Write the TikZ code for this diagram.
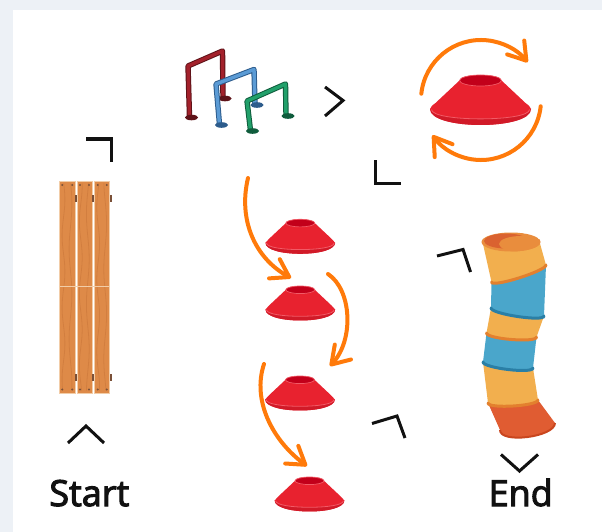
\documentclass[tikz,border=0pt]{standalone}
\usepackage{fontspec}
\setmainfont{Open Sans}
\newfontfamily\labelfont{Open Sans}[FakeBold=3]
\usetikzlibrary{arrows.meta}

\definecolor{pagegray}{HTML}{EDF1F6}
\definecolor{inkblack}{HTML}{111111}
\definecolor{conered}{HTML}{E8222F}
\definecolor{conehole}{HTML}{C2001A}
\definecolor{conebrim}{HTML}{D11A28}
\definecolor{conehi}{HTML}{F25A66}
\definecolor{flowor}{HTML}{FF7A0A}
\definecolor{wood}{HTML}{DE8A48}
\definecolor{woodedge}{HTML}{F2CDA8}
\definecolor{woodgrain}{HTML}{C77438}
\definecolor{woodnail}{HTML}{7A5038}
\definecolor{hredA}{HTML}{A3212B}
\definecolor{hredB}{HTML}{5E1218}
\definecolor{hbluA}{HTML}{5B9BD5}
\definecolor{hbluB}{HTML}{2D5C8C}
\definecolor{hgrnA}{HTML}{21A06A}
\definecolor{hgrnB}{HTML}{0F5C3C}
\definecolor{tunlight}{HTML}{F2AF4E}
\definecolor{tunblue}{HTML}{4AA6CB}
\definecolor{tunred}{HTML}{E05C32}
\definecolor{tunring}{HTML}{E3802E}
\definecolor{tunbluering}{HTML}{2A7FA6}
\definecolor{tuntop}{HTML}{E98D3D}
\definecolor{tuninner}{HTML}{DA6230}
\definecolor{tunrim}{HTML}{C9461E}

\tikzset{
  corner/.style={draw=inkblack, line width=3pt, line join=miter, line cap=butt},
  flow/.style={draw=flowor, line width=4pt, line cap=round,
    -{Straight Barb[length=17pt,width=22pt,round]}},
  grain/.style={draw=woodgrain, line width=0.8pt, opacity=0.5},
  label/.style={text=inkblack, font=\labelfont\fontsize{36}{40}\selectfont, anchor=base},
  % red disc cone, origin at the top centre of the hole
  pics/cone/.style={code={
    \fill[conered] (-21,5.5) .. controls (-21,-1.8) and (21,-1.8) .. (21,5.5)
      -- (45,28) .. controls (49,31) .. (50.5,34)
      .. controls (50.5,55.3) and (-50.5,55.3) .. (-50.5,34)
      .. controls (-49,31) .. (-45,28) -- cycle;
    \fill[conebrim] (-50.5,34) .. controls (-50.5,55.3) and (50.5,55.3) .. (50.5,34)
      .. controls (49,47) and (-49,47) .. cycle;
    \draw[conehi, line width=0.8pt] (-49,34.5) .. controls (-49,47) and (49,47) .. (49,34.5);
    \fill[conehole] (0,5.5) ellipse [x radius=21, y radius=5.5];
    \draw[conehi, line width=0.7pt] (0,5.5) ellipse [x radius=21, y radius=5.5];
  }},
  % one wooden board of the walking plank, origin at its top left corner
  pics/board/.style={code={
    \fill[wood] (0,0) rectangle (15.5,211.5);
    \draw[woodedge, line width=0.6pt] (0,0) rectangle (15.5,211.5);
    \draw[grain] plot[domain=2:209, samples=60, smooth] ({4+1.4*sin(\x*5+#1)}, \x);
    \draw[grain] plot[domain=2:209, samples=60, smooth] ({11+1.4*sin(\x*4+2*#1)}, \x);
  }},
  hurdle/.style 2 args={line width=#2, draw=#1, line join=round, line cap=round}
}

\begin{document}
\begin{tikzpicture}[x=1pt, y=-1pt]
  % page and panel
  \fill[pagegray] (0,0) rectangle (602,532);
  \fill[white] (13,10) rectangle (602,532);
  \useasboundingbox (0,0) rectangle (602,532);

  % ---------- walking plank ----------
  \pic at (59.5,181.5) {board=0};
  \pic at (76.8,181.5) {board=70};
  \pic at (94.2,181.5) {board=140};
  \draw[woodedge, line width=0.6pt] (59.5,286) -- (109.7,286);
  \foreach \nx in {62.3,72.3,80,89,97.7,106.7} {
    \fill[woodnail] (\nx,185) circle (1.1);
    \fill[woodnail] (\nx,389.5) circle (1.1);
  }
  \foreach \bx in {74.8,92.1,109.6} {
    \fill[woodnail] (\bx,195) rectangle ++(2,7);
    \fill[woodnail] (\bx,374) rectangle ++(2,7);
  }

  % ---------- three hurdles ----------
  \foreach \ca/\cb/\lfx/\lfy/\ltx/\lty/\rtx/\rty/\rfx/\rfy in {
      hredA/hredB/189.5/117/188/66/222.5/51/223/98,
      hbluA/hbluB/219.5/124.5/216/84/254/69.5/255/104.5,
      hgrnA/hgrnB/250.5/130.5/247/101/285.5/84/286/115.5} {
    \draw[hurdle={\cb}{5.4pt}] (\lfx,\lfy) -- (\ltx,\lty) -- (\rtx,\rty) -- (\rfx,\rfy);
    \draw[hurdle={\ca}{3.4pt}] (\lfx,\lfy) -- (\ltx,\lty) -- (\rtx,\rty) -- (\rfx,\rfy);
    \fill[\cb] (\lfx+2,\lfy+0.5) ellipse [x radius=6.5, y radius=2.8];
    \fill[\cb] (\rfx+2,\rfy+0.5) ellipse [x radius=6.5, y radius=2.8];
  }

  % ---------- cones ----------
  \pic at (480.5,75) {cone};
  \pic[scale=0.69] at (300.3,219.3) {cone};
  \pic[scale=0.69] at (300.3,286) {cone};
  \pic[scale=0.69] at (300,376) {cone};
  \pic[scale=0.69] at (309.5,477) {cone};

  % ---------- tunnel ----------
  \fill[tunlight] (483,244) -- (491.5,282) .. controls (491.5,288) and (546,271) .. (546,265)
    -- (539,240) -- cycle;
  \fill[tunblue] (491.5,282) .. controls (491.5,288) and (546,271) .. (546,265)
    -- (544,316) .. controls (544,322) and (491,314) .. (491,308) -- cycle;
  \fill[tunlight] (491,308) .. controls (491,314) and (544,322) .. (544,316)
    -- (536.5,337) .. controls (536.5,343) and (486.5,339) .. (486.5,333) -- cycle;
  \fill[tunblue] (486.5,333) .. controls (486.5,339) and (536.5,343) .. (536.5,337)
    -- (533,368) .. controls (533,374) and (483,368) .. (483,362) -- cycle;
  \fill[tunlight] (483,362) .. controls (483,368) and (533,374) .. (533,368)
    -- (538,400) .. controls (538,406) and (488,409) .. (488,403) -- cycle;
  \fill[tunred] (488,403) .. controls (488,409) and (538,406) .. (538,400)
    -- (555,423) .. controls (555,437) and (500,444) .. (500,430) -- cycle;
  \draw[tunrim, line width=2pt] (500,430) .. controls (500,444) and (555,437) .. (555,423);
  \draw[tunring, line width=3pt, line cap=round] (491.5,282) .. controls (491.5,288) and (546,271) .. (546,265);
  \draw[tunbluering, line width=3pt, line cap=round] (491,308) .. controls (491,314) and (544,322) .. (544,316);
  \draw[tunring, line width=3pt, line cap=round] (486.5,333) .. controls (486.5,339) and (536.5,343) .. (536.5,337);
  \draw[tunbluering, line width=3pt, line cap=round] (483,362) .. controls (483,368) and (533,374) .. (533,368);
  \draw[tunring, line width=3pt, line cap=round] (488,403) .. controls (488,409) and (538,406) .. (538,400);
  \begin{scope}
    \clip (511,242) ellipse [x radius=29.5, y radius=9.5];
    \fill[tuntop] (511,242) ellipse [x radius=29.5, y radius=9.5];
    \fill[tuninner] (506,241) ellipse [x radius=22, y radius=7.5];
    \fill[tuntop] (521,244) ellipse [x radius=22, y radius=8];
  \end{scope}

  % ---------- orange flow arrows ----------
  \coordinate (a1s) at (248,178);  \coordinate (a1e) at (291,278);
  \coordinate (a2s) at (328,274);  \coordinate (a2e) at (330,366);
  \coordinate (a3s) at (264,364);  \coordinate (a3e) at (307,466);
  \coordinate (spinc) at (481,100);
  \draw[flow] (a1s) .. controls (238,220) and (255,258) .. (a1e);
  \draw[flow] (a2s) .. controls (352,290) and (354,340) .. (a2e);
  \draw[flow] (a3s) .. controls (252,400) and (272,440) .. (a3e);
  \draw[flow] (spinc) ++(186:60) arc[start angle=186, end angle=321, radius=60];
  \draw[flow] (spinc) ++(6:60) arc[start angle=6, end angle=144, radius=60];

  % ---------- direction marks ----------
  \draw[corner] (86,139) -- (111.5,139) -- (111.5,162);
  \draw[corner] (68,443) -- (86,426) -- (104,443);
  \draw[corner] (325,87) -- (343,100.5) -- (325,116);
  \draw[corner] (375,160) -- (375,183) -- (401,183);
  \draw[corner] (437,256) -- (463,249.5) -- (470.5,272);
  \draw[corner] (372,423.5) -- (397,416) -- (405,438);
  \draw[corner] (501,454.5) -- (519.5,471) -- (538,454.5);

  % ---------- labels ----------
  \node[label] (start) at (89.3,506) {Start};
  \node[label] (end) at (520.7,506) {End};
\end{tikzpicture}
\end{document}
